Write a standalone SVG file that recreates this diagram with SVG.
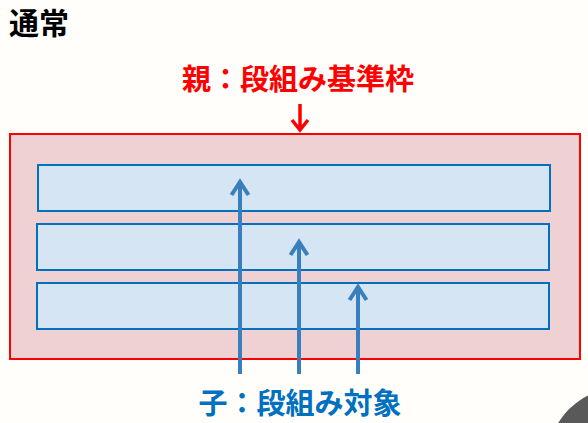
<svg xmlns="http://www.w3.org/2000/svg" width="588" height="423" viewBox="0 0 588 423">
<style>
.t{font-family:"Noto Sans CJK JP","Noto Sans CJK SC",sans-serif;font-weight:bold}
.child{fill:#d5e5f3;stroke:#0070c0;stroke-width:2}
.ar{stroke:#3a7fbd;stroke-width:4;fill:none}
</style>
<rect width="588" height="423" fill="#fffefb"/>
<circle cx="620" cy="460" r="72" fill="#595959"/>
<text class="t" x="9" y="34" font-size="30" fill="#000">通常</text>
<g id="parent">
<rect x="10" y="134" width="570" height="225" fill="#efd1d4" stroke="#ff0000" stroke-width="2"/>
<text class="t" x="298" y="90" font-size="29" fill="#ff0000" text-anchor="middle">親：段組み基準枠</text>
</g>
<g id="child1"><rect class="child" x="38" y="165" width="512" height="46"/></g>
<g id="child2"><rect class="child" x="37" y="224" width="512" height="46"/></g>
<g id="child3"><rect class="child" x="37" y="283" width="512" height="46"/></g>
<g id="childLabel">
<text class="t" x="300" y="414" font-size="29" fill="#0070c0" text-anchor="middle">子：段組み対象</text>
</g>
<g id="connectors">
<path d="M300 104V129M292 120L300 130L308 120" stroke="#ff0000" stroke-width="3.5" fill="none"/>
<path class="ar" d="M240 374V183M231.5 195L240 182L248.5 195"/>
<path class="ar" d="M299 374V243M290.5 255L299 242L307.5 255"/>
<path class="ar" d="M358 374V288M349.5 300L358 287L366.5 300"/>
</g>
</svg>
